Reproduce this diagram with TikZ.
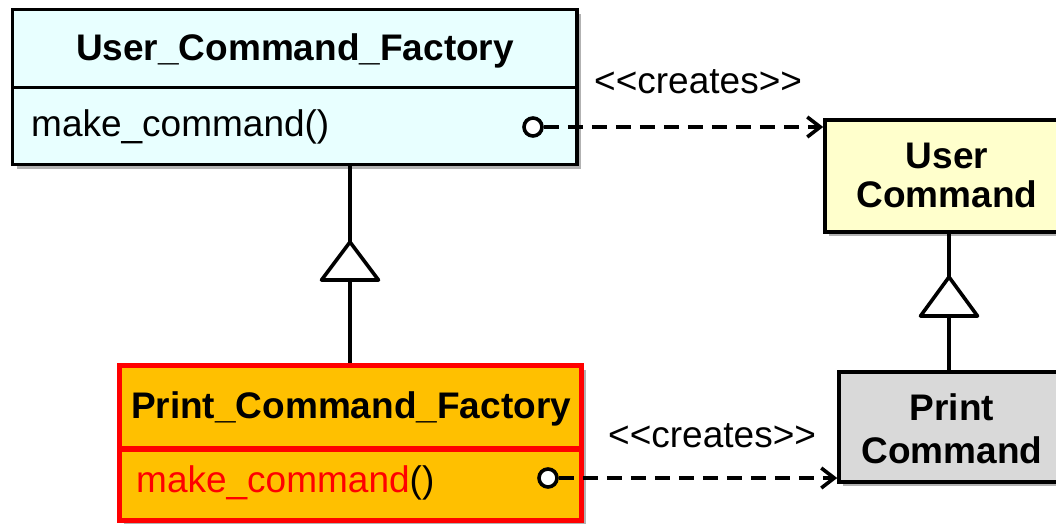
\documentclass[tikz,border=0pt]{standalone}
\usepackage{fontspec}
\setmainfont{Liberation Sans}
\usetikzlibrary{arrows.meta,shadows}
\definecolor{ucffill}{HTML}{E8FFFF}
\definecolor{ucfill}{HTML}{FFFFCC}
\definecolor{pcfill}{HTML}{D9D9D9}
\definecolor{pcffill}{HTML}{FFC000}
\definecolor{pred}{HTML}{FF0000}
\tikzset{
  txt/.style={font=\fontsize{37}{44}\selectfont, inner sep=0pt},
  btxt/.style={font=\fontsize{37}{44}\selectfont\bfseries, inner sep=0pt, anchor=base},
  box/.style={draw=black, line width=3.6pt, rectangle, inner sep=0pt},
  shad/.style={drop shadow={shadow xshift=4pt, shadow yshift=-4pt, opacity=0.3, fill=black}},
  redbox/.style={draw=pred, line width=5.5pt, rectangle, inner sep=0pt, fill=pcffill},
  gen/.style={draw=black, line width=3.6pt},
  knob/.style={circle, draw=black, line width=3.6pt, fill=white, minimum size=18pt, inner sep=0pt},
  creates/.style={line width=3.6pt, dash pattern=on 15pt off 9pt, -{Straight Barb[length=13pt,width=20pt]}},
}
\begin{document}
\begin{tikzpicture}[x=1pt,y=-1pt]
\useasboundingbox (0,0) rectangle (1056,523);
\clip (0,0) rectangle (1056,523);

% User_Command_Factory
\node[box, fill=ucffill, shad, minimum width=564.5pt, minimum height=78pt] (ucfh) at (294.75,48.5) {};
\node[box, fill=ucffill, shad, minimum width=564.5pt, minimum height=77pt] (ucfm) at (294.75,126) {};
\node[btxt] (ucft) at (295,60) {User\_Command\_Factory};
\node[txt, anchor=base west] (ucfmt) at (31,136) {make\_command()};

% User Command
\node[box, fill=ucfill, shad, minimum width=245pt, minimum height=112pt] (uc) at (947.5,176) {};
\node[btxt] (uct1) at (947,168) {User};
\node[btxt] (uct2) at (947,207) {Command};

% Print Command
\node[box, fill=pcfill, shad, minimum width=226pt, minimum height=110pt] (pc) at (952,427) {};
\node[btxt] (pct1) at (952,420) {Print};
\node[btxt] (pct2) at (952,463) {Command};

% Print_Command_Factory
\node[redbox, shad, minimum width=462pt, minimum height=83.5pt] (pcfh) at (350.5,407.25) {};
\node[redbox, shad, minimum width=462pt, minimum height=71.5pt] (pcfm) at (350.5,484.75) {};
\node[btxt] (pcft) at (351,418) {Print\_Command\_Factory};
\node[txt, anchor=base west] (pcfmt) at (136,492) {\textcolor{pred}{make\_command}()};

% generalization left
\coordinate (la) at (350,242);
\coordinate (lb) at (350,280);
\draw[gen] (la |- ucfm.south) -- (la);
\draw[gen, fill=white, line join=round] (la) -- ++(-28.5,38) -- ++(57,0) -- cycle;
\draw[gen] (lb) -- (lb |- pcfh.north);

% generalization right
\coordinate (ra) at (949,277);
\coordinate (rb) at (949,316);
\draw[gen] (ra |- uc.south) -- (ra);
\draw[gen, fill=white, line join=round] (ra) -- ++(-28.5,39) -- ++(57,0) -- cycle;
\draw[gen] (rb) -- (rb |- pc.north);

% creates connectors
\node[knob] (k1) at (533,127) {};
\draw[creates] (k1) -- (k1 -| uc.west);
\node[txt, anchor=base west] (l1) at (594,93) {<\kern0pt<creates>\kern0pt>};

\node[knob] (k2) at (548,478) {};
\draw[creates] (k2) -- (k2 -| pc.west);
\node[txt, anchor=base west] (l2) at (608,447) {<\kern0pt<creates>\kern0pt>};
\end{tikzpicture}
\end{document}
